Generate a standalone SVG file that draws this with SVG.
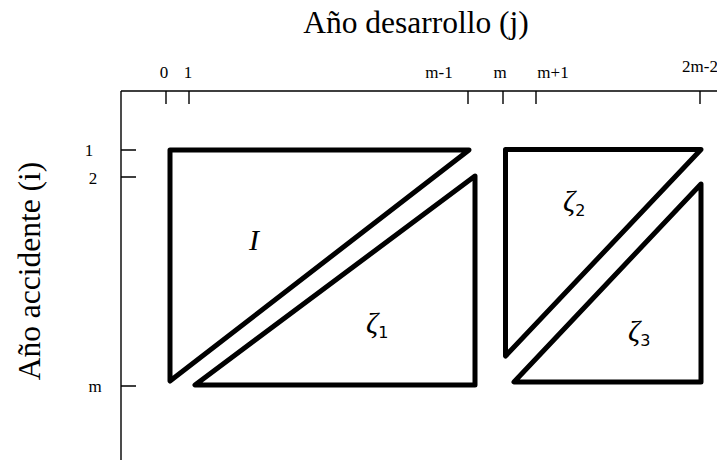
<svg xmlns="http://www.w3.org/2000/svg" width="717" height="460" viewBox="0 0 717 460">
<style>
.axis{stroke:#000;stroke-width:1.4;fill:none}
.tri{stroke:#000;stroke-width:5;fill:none;stroke-linejoin:round}
.tick{font-family:"Liberation Serif",serif;font-size:17px;fill:#000}
.title{font-family:"Liberation Serif",serif;font-size:31.5px;fill:#000}
.sym{font-family:"Liberation Serif",serif;font-style:italic;font-size:30px;fill:#000}
.sub{font-family:"DejaVu Sans","Noto Sans",sans-serif;font-size:16px;fill:#000}
</style>
<rect width="717" height="460" fill="#fff"/>
<text class="title" x="416" y="33" text-anchor="middle">Año desarrollo (j)</text>
<text class="title" transform="translate(40,271) rotate(-90)" text-anchor="middle">Año accidente (i)</text>
<g id="axes">
<path class="axis" d="M121,91 H717 M121,91 V460"/>
<path class="axis" d="M166,91 V104 M189,91 V104 M468,91 V104 M503,91 V104 M536,91 V104 M700,91 V104"/>
<path class="axis" d="M121,150 H136 M121,177 H136 M121,386 H136"/>
<text class="tick" x="164" y="78" text-anchor="middle">0</text>
<text class="tick" x="188" y="78" text-anchor="middle">1</text>
<text class="tick" x="439" y="78" text-anchor="middle">m-1</text>
<text class="tick" x="500" y="78" text-anchor="middle">m</text>
<text class="tick" x="553" y="78" text-anchor="middle">m+1</text>
<text class="tick" x="682" y="72">2m-2</text>
<text class="tick" x="89" y="156" text-anchor="middle">1</text>
<text class="tick" x="93" y="184" text-anchor="middle">2</text>
<text class="tick" x="95" y="392" text-anchor="middle">m</text>
</g>
<g id="I">
<polygon class="tri" points="170,150 469,150 170,381"/>
<text class="sym" x="249" y="250">I</text>
</g>
<g id="zeta1">
<polygon class="tri" points="195,385 475,385 475,176"/>
<text class="sym" x="366" y="333">ζ<tspan class="sub" dy="5" font-style="normal">1</tspan></text>
</g>
<g id="zeta2">
<polygon class="tri" points="505.5,149.5 701,149.5 505.5,356"/>
<text class="sym" x="563" y="211">ζ<tspan class="sub" dy="5" font-style="normal">2</tspan></text>
</g>
<g id="zeta3">
<polygon class="tri" points="514,382 701,382 701,184"/>
<text class="sym" x="628" y="341">ζ<tspan class="sub" dy="5" font-style="normal">3</tspan></text>
</g>
<g id="connectors"></g>
</svg>
